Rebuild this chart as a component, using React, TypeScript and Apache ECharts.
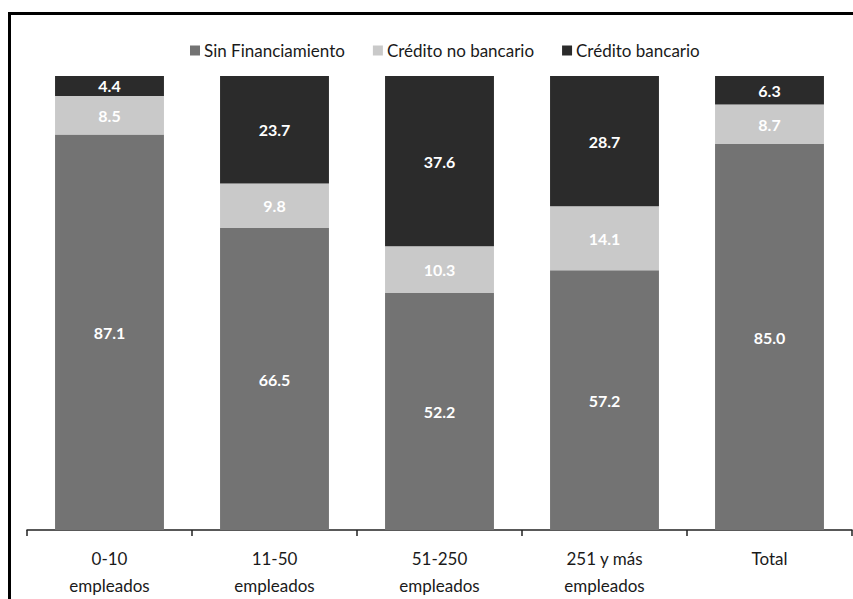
import React, { useEffect, useRef } from "react";
import * as echarts from "echarts";

const categories = ["0-10\nempleados", "11-50\nempleados", "51-250\nempleados", "251 y más\nempleados", "Total"];
const sinFinanciamiento = [87.1, 66.5, 52.2, 57.2, 85.0];
const creditoNoBancario = [8.5, 9.8, 10.3, 14.1, 8.7];
const creditoBancario = [4.4, 23.7, 37.6, 28.7, 6.3];
const seriesNames = ["Sin Financiamiento", "Crédito no bancario", "Crédito bancario"];

const FONT = "Lato";

export default function App() {
  const ref = useRef<HTMLDivElement>(null);
  useEffect(() => {
    if (!ref.current) return;
    const chart = echarts.init(ref.current, null, { renderer: "svg" });
    const label = {
      show: true,
      position: "inside",
      color: "#ffffff",
      fontWeight: "bold",
      fontSize: 16,
      fontFamily: FONT,
      formatter: (p: any) => Number(p.value).toFixed(1),
    };
    const colors = ["#737373", "#c9c9c9", "#2b2b2b"];
    const datas = [sinFinanciamiento, creditoNoBancario, creditoBancario];
    chart.setOption({
      animation: false,
      color: colors,
      textStyle: { fontFamily: FONT },
      graphic: [
        {
          type: "rect",
          shape: { x: 9.5, y: 13.5, width: 900, height: 700 },
          style: { fill: "none", stroke: "#000", lineWidth: 3 },
          silent: true,
        },
      ],
      legend: {
        top: 37,
        left: 185,
        itemGap: 28,
        itemWidth: 10,
        itemHeight: 10,
        icon: "rect",
        textStyle: { fontSize: 17, color: "#1a1a1a", fontFamily: FONT, padding: [0, 0, 0, -1] },
        data: seriesNames,
      },
      grid: { left: 27, right: 1, top: 76, bottom: 66, containLabel: false },
      xAxis: {
        type: "category",
        data: categories,
        axisLine: { show: true, lineStyle: { color: "#222", width: 1.5 } },
        axisTick: { show: true, length: 6, inside: false, lineStyle: { color: "#222", width: 1.5 } },
        axisLabel: { fontSize: 17, color: "#1a1a1a", lineHeight: 27, margin: 15, fontFamily: FONT },
      },
      yAxis: {
        type: "value",
        min: 0,
        max: 100,
        show: false,
        splitLine: { show: false },
      },
      series: datas.map((d, i) => ({
        name: seriesNames[i],
        type: "bar",
        stack: "total",
        barWidth: "66%",
        data: d,
        label,
        itemStyle: { color: colors[i] },
      })),
    });
    return () => chart.dispose();
  }, []);
  return <div ref={ref} style={{ width: 853, height: 599, position: "absolute", left: 0, top: 0, background: "#fff" }} />;
}
